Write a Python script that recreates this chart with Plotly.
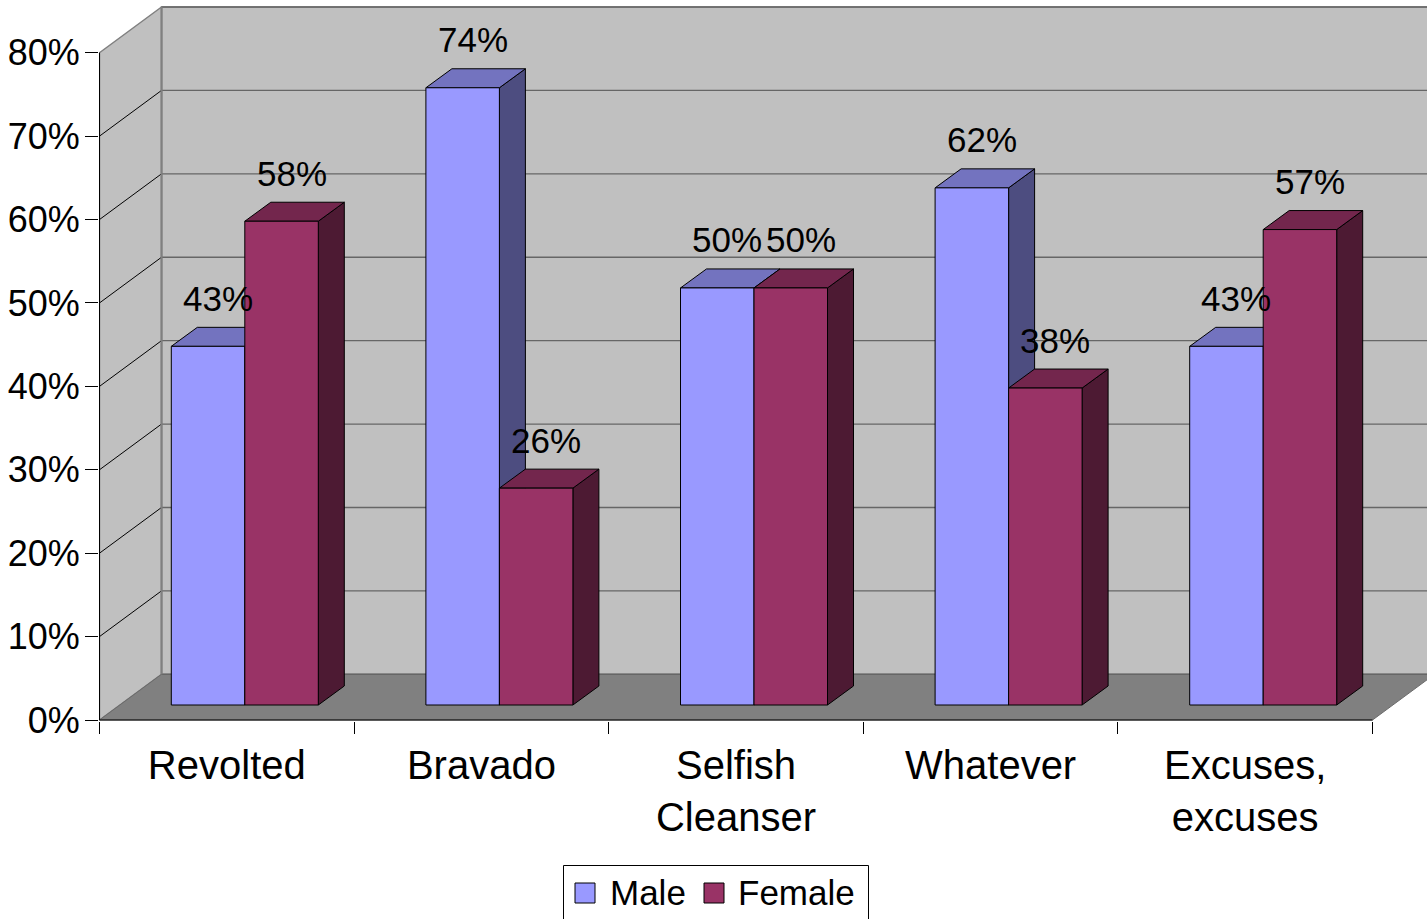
import plotly.graph_objects as go

# ---- data ----
categories = ["Revolted", "Bravado", "Selfish<br>Cleanser", "Whatever", "Excuses,<br>excuses"]
male = [43, 74, 50, 62, 43]
female = [58, 26, 50, 38, 57]
y_ticks = [0, 10, 20, 30, 40, 50, 60, 70, 80]
y_tick_labels = [f"{t}%" for t in y_ticks]
series_names = ["Male", "Female"]

# ---- geometry / styling ----
W, H = 1427, 919
ML, MB = 99, 198
PX_X = 254.6          # pixels per category
PX_Y = 8.341          # pixels per percentage point
BAR_W = 73.5 / PX_X   # width of one bar (category units)
WALL = (62, 45.7)     # depth offset of the back wall (px right, px up)
BAR_F = (18, 15)      # depth offset of bar front faces
BAR_B = (44, 34)      # depth offset of bar back faces
FONT = "Liberation Sans, Arial, sans-serif"

COLORS = {
    "Male": {"front": "#9999FF", "top": "#7373BF", "side": "#4D4D80"},
    "Female": {"front": "#993366", "top": "#73264D", "side": "#4D1A33"},
}

x_lo = -0.5 - 0.5 / PX_X
x_hi = x_lo + (W - ML) / PX_X
plot_h = H - MB
y_lo = -(plot_h - 720) / PX_Y
y_hi = 720 / PX_Y
n = len(categories)


def proj(c, v, off):
    """Oblique projection of a point at depth offset `off` onto the front plane."""
    return (c + off[0] / PX_X, v + off[1] / PX_Y)


fig = go.Figure()


def poly(pts, fill, line_color="black", width=1.0):
    xs = [p[0] for p in pts] + [pts[0][0]]
    ys = [p[1] for p in pts] + [pts[0][1]]
    fig.add_trace(go.Scatter(
        x=xs, y=ys, mode="lines", fill="toself", fillcolor=fill,
        line=dict(color=line_color, width=width),
        hoverinfo="skip", showlegend=False))


def seg(p, q, color, width=1.0):
    fig.add_trace(go.Scatter(
        x=[p[0], q[0]], y=[p[1], q[1]], mode="lines",
        line=dict(color=color, width=width),
        hoverinfo="skip", showlegend=False))


left, right = -0.5, n - 0.5
top = y_ticks[-1]

# walls and floor
poly([proj(left, 0, WALL), proj(right + 1, 0, WALL), proj(right + 1, top, WALL), proj(left, top, WALL)],
     "#C0C0C0", "#808080", 1.5)
poly([(left, 0), (left, top), proj(left, top, WALL), proj(left, 0, WALL)], "#C0C0C0", "#808080", 1.5)
poly([(left, 0), (right, 0), proj(right, 0, WALL), proj(left, 0, WALL)], "#808080", "#6a6a6a", 1.0)

# gridlines: back wall and side wall
for t in y_ticks:
    seg(proj(left, t, WALL), proj(right + 1, t, WALL), "#666666", 1.3)
    if 0 < t < top:
        seg((left, t), proj(left, t, WALL), "black", 1.0)
seg(proj(left, 0, WALL), proj(left, top, WALL), "#808080", 2.0)

# front axis lines
seg((left, 0), (left, top), "black", 1.0)
seg((left, 0), (right, 0), "black", 1.0)


def bar(L, v, col):
    f0, f1 = proj(L, 0, BAR_F), proj(L + BAR_W, 0, BAR_F)
    ft0, ft1 = proj(L, v, BAR_F), proj(L + BAR_W, v, BAR_F)
    b1 = proj(L + BAR_W, 0, BAR_B)
    bt0, bt1 = proj(L, v, BAR_B), proj(L + BAR_W, v, BAR_B)
    poly([f1, b1, bt1, ft1], col["side"])
    poly([ft0, ft1, bt1, bt0], col["top"])
    poly([f0, f1, ft1, ft0], col["front"])


annotations = []
for i in range(n):
    for name, vals, L in (("Male", male, i - BAR_W), ("Female", female, i)):
        v = vals[i]
        bar(L, v, COLORS[name])
        lx, ly = proj(L + BAR_W / 2, v, (BAR_F[0] + 10, BAR_F[1] + 48))
        annotations.append(dict(
            x=lx, y=ly, xref="x", yref="y", text=f"{v}%", showarrow=False,
            xanchor="center", yanchor="middle",
            font=dict(family=FONT, size=35, color="black")))


# legend (drawn in pixel space of the page)
def px_x(px):
    return (px - ML) / (W - ML)


def px_y(py):
    return (plot_h - py) / plot_h


shapes = [
    dict(type="rect", xref="paper", yref="paper",
         x0=px_x(563.5), x1=px_x(868.5), y0=px_y(930), y1=px_y(865.5),
         line=dict(color="black", width=1), fillcolor="white", layer="above"),
]
legend_items = [("Male", 575, 608), ("Female", 704, 736)]
for name, sx, tx in legend_items:
    shapes.append(dict(
        type="rect", xref="paper", yref="paper",
        x0=px_x(sx), x1=px_x(sx + 20), y0=px_y(903), y1=px_y(883),
        line=dict(color="black", width=1), fillcolor=COLORS[name]["front"], layer="above"))
    annotations.append(dict(
        x=px_x(tx), y=px_y(893), xref="paper", yref="paper", text=name,
        showarrow=False, xanchor="left", yanchor="middle",
        font=dict(family=FONT, size=35, color="black")))

fig.update_layout(
    width=W, height=H,
    margin=dict(l=ML, r=0, t=0, b=MB, pad=0),
    paper_bgcolor="white", plot_bgcolor="white",
    showlegend=False, hovermode=False,
    shapes=shapes, annotations=annotations,
    xaxis=dict(
        range=[x_lo, x_hi], showgrid=False, zeroline=False, showline=False,
        tickmode="array", tickvals=list(range(n)), ticktext=categories,
        ticks="", ticklabelstandoff=17,
        tickfont=dict(family=FONT, size=40, color="black"),
        minor=dict(tickmode="array", tickvals=[k - 0.5 for k in range(n + 1)],
                   ticks="outside", ticklen=12, tickcolor="black", tickwidth=1, showgrid=False),
        fixedrange=True),
    yaxis=dict(
        range=[y_lo, y_hi], showgrid=False, zeroline=False, showline=False,
        tickmode="array", tickvals=y_ticks, ticktext=y_tick_labels,
        ticks="outside", ticklen=13, tickcolor="black", tickwidth=1,
        ticklabelstandoff=-2,
        tickfont=dict(family=FONT, size=36, color="black"),
        fixedrange=True),
)

fig.write_html("out.html", config={"displayModeBar": False})
